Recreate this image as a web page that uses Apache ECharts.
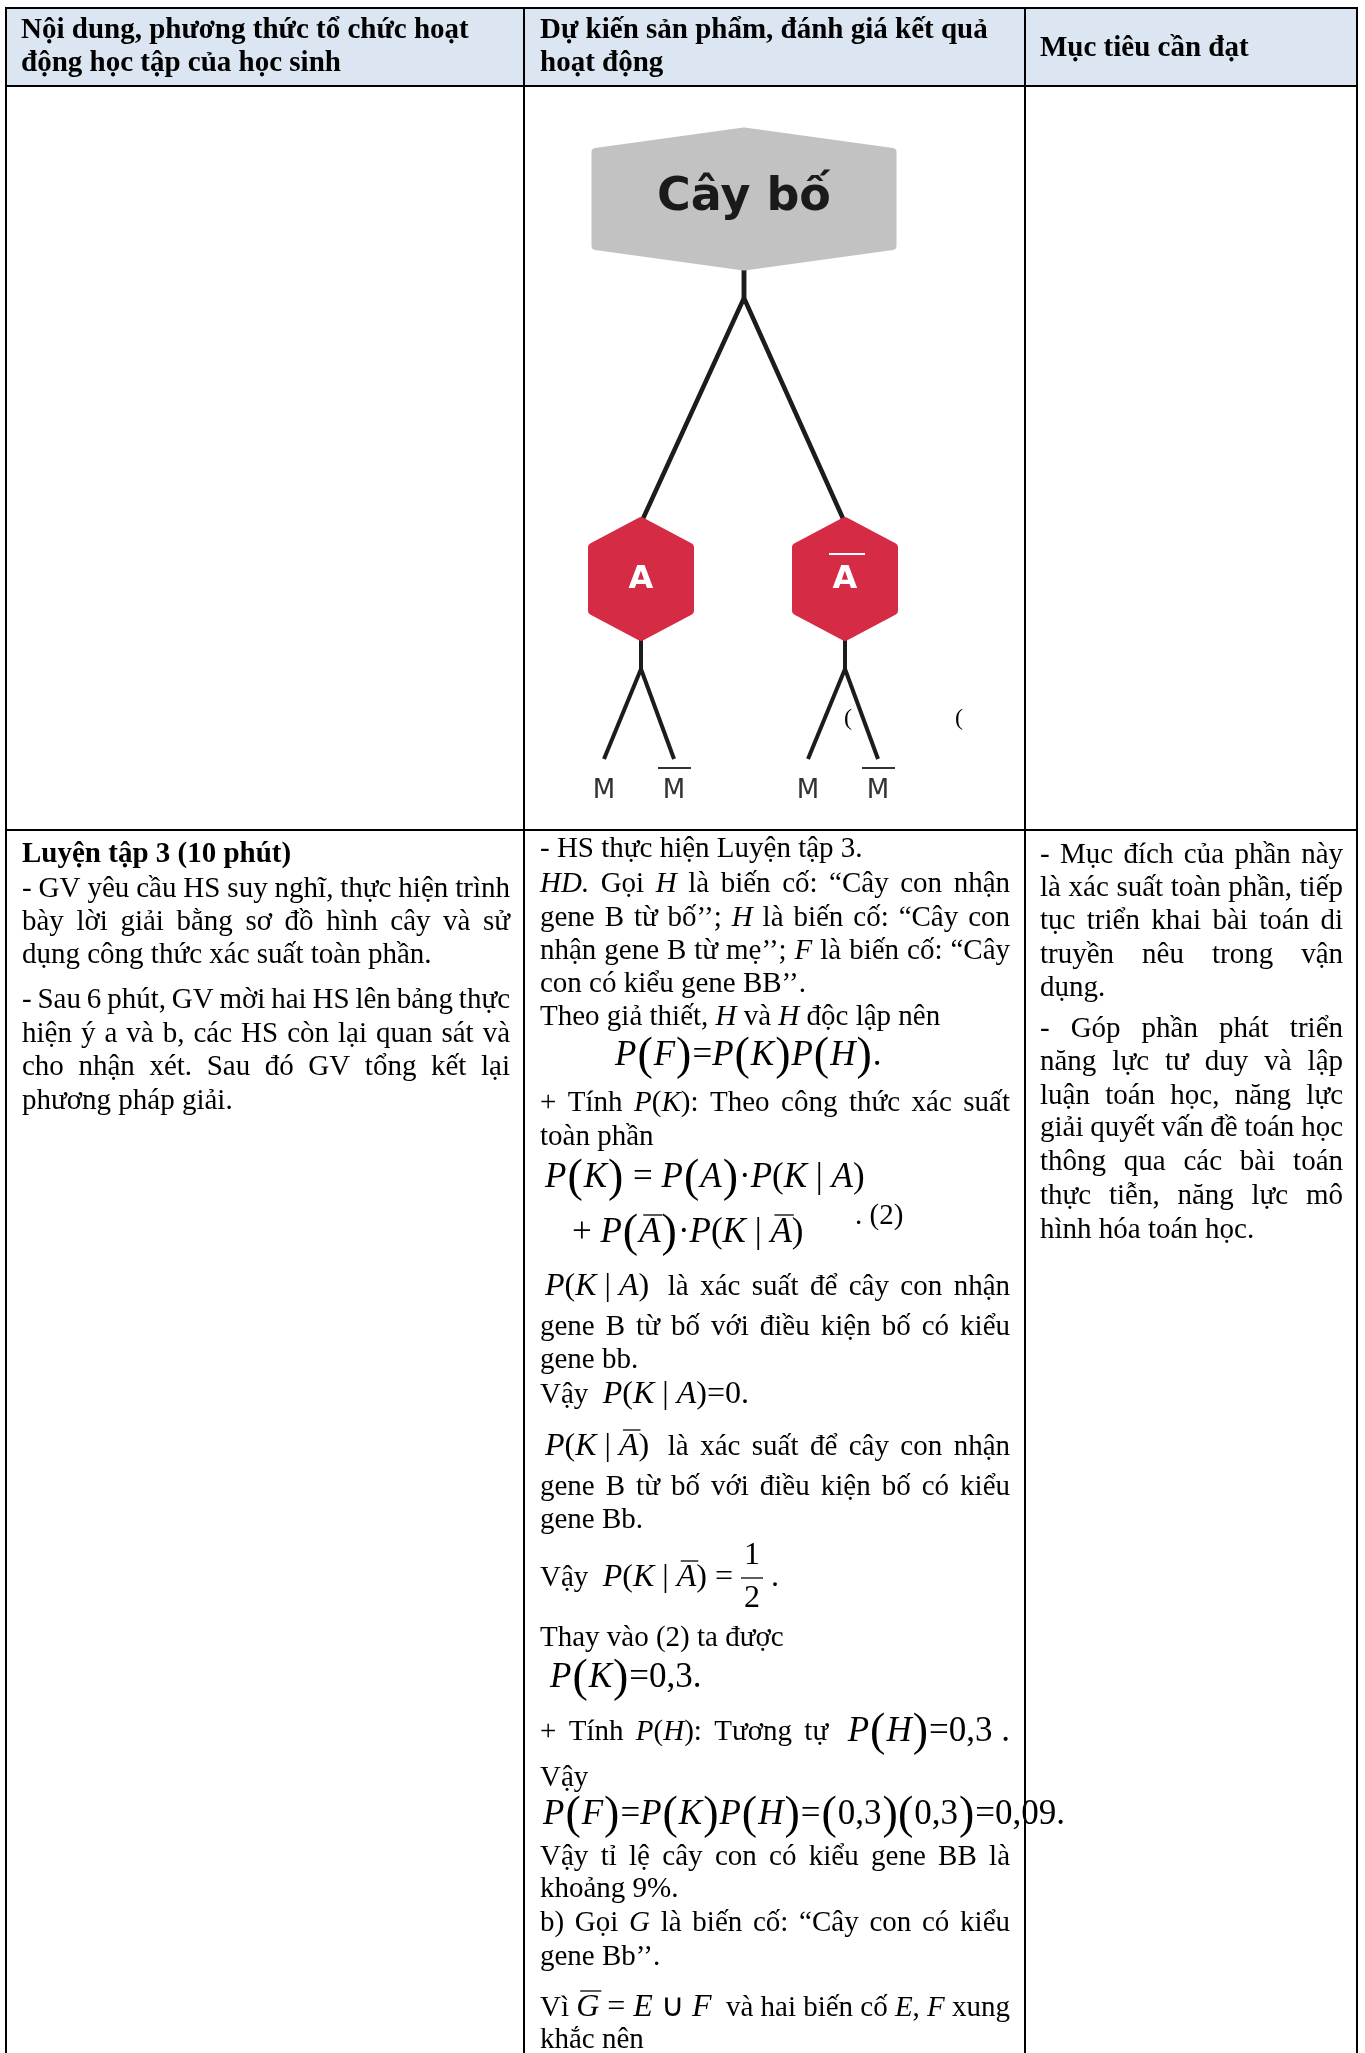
<!DOCTYPE html>
<html>
<head>
<meta charset="utf-8">
<script src="https://cdn.jsdelivr.net/npm/echarts@6/dist/echarts.min.js"></script>
<style>
html, body { margin: 0; padding: 0; background: #fff; }
#main { width: 1365px; height: 2053px; }
</style>
</head>
<body>
<div id="main"></div>
<script>
// markup: _x_ italic, *x* bold, $x$ inline math, #x# display math, «» big parens,
// ¯ overline next char, ~ fixed space, {a/b} fraction
var headerCol1 = ['Nội dung, phương thức tổ chức hoạt', 'động học tập của học sinh'];
var headerCol2 = ['Dự kiến sản phẩm, đánh giá kết quả', 'hoạt động'];
var headerCol3 = ['Mục tiêu cần đạt'];

var treeRoot = 'Cây bố';
var treeLevel1 = ['A', '¯A'];
var treeLevel2 = ['M', '¯M'];

var col1Lines = [
  '*Luyện tập 3 (10 phút)*',
  '- GV yêu cầu HS suy nghĩ, thực hiện trình',
  'bày lời giải bằng sơ đồ hình cây và sử',
  'dụng công thức xác suất toàn phần.',
  '- Sau 6 phút, GV mời hai HS lên bảng thực',
  'hiện ý a và b, các HS còn lại quan sát và',
  'cho nhận xét. Sau đó GV tổng kết lại',
  'phương pháp giải.'
];
var col1Justify = [0, 1, 1, 0, 1, 1, 1, 0];

var col2Lines = [
  '- HS thực hiện Luyện tập 3.',
  '_HD._ Gọi _H_ là biến cố: “Cây con nhận',
  'gene B từ bố’’; _H_ là biến cố: “Cây con',
  'nhận gene B từ mẹ’’; _F_ là biến cố: “Cây',
  'con có kiểu gene BB’’.',
  'Theo giả thiết, _H_ và _H_ độc lập nên',
  '#_P_«_F_»=_P_«_K_»_P_«_H_».#',
  '+ Tính _P_(_K_): Theo công thức xác suất',
  'toàn phần',
  '#_P_«_K_»~=~_P_«_A_»·_P_(_K_~|~_A_)#',
  '#+~_P_«¯_A_»·_P_(_K_~|~¯_A_)#',
  '.~(2)',
  '$_P_(_K_~|~_A_)$~ là xác suất để cây con nhận',
  'gene B từ bố với điều kiện bố có kiểu',
  'gene bb.',
  'Vậy~~$_P_(_K_~|~_A_)=0.$',
  '$_P_(_K_~|~¯_A_)$~ là xác suất để cây con nhận',
  'gene B từ bố với điều kiện bố có kiểu',
  'gene Bb.',
  'Vậy~~$_P_(_K_~|~¯_A_)~=~{1/2}~.$',
  'Thay vào (2) ta được',
  '#_P_«_K_»=0,3.#',
  '+ Tính _P_(_H_): Tương tự~ #_P_«_H_»=0,3~.#',
  'Vậy',
  '#_P_«_F_»=_P_«_K_»_P_«_H_»=«0,3»«0,3»=0,09.#',
  'Vậy tỉ lệ cây con có kiểu gene BB là',
  'khoảng 9%.',
  'b) Gọi _G_ là biến cố: “Cây con có kiểu',
  'gene Bb’’.',
  'Vì $¯_G_~=~_E_~∪~_F_$ ~và hai biến cố _E_, _F_ xung',
  'khắc nên'
];
var col2Justify = [0, 1, 1, 1, 0, 0, 0, 1, 0, 0, 0, 0, 1, 1, 0, 0, 1, 1, 0, 0, 0, 0, 1, 0, 0, 1, 0, 1, 0, 1, 0];

var col3Lines = [
  '- Mục đích của phần này',
  'là xác suất toàn phần, tiếp',
  'tục triển khai bài toán di',
  'truyền nêu trong vận',
  'dụng.',
  '- Góp phần phát triển',
  'năng lực tư duy và lập',
  'luận toán học, năng lực',
  'giải quyết vấn đề toán học',
  'thông qua các bài toán',
  'thực tiễn, năng lực mô',
  'hình hóa toán học.'
];
var col3Justify = [1, 1, 1, 1, 0, 1, 1, 1, 1, 1, 1, 0];

// layout
var colX = [6, 524, 1025, 1357];
var rowY = [8, 86, 830];
var col1Y = [855, 889, 922, 955, 1000, 1034, 1067, 1101];
var col2Y = [849, 884, 918, 951, 984, 1017, 1056, 1103, 1137, 1178, 1233, 1216, 1287, 1327, 1360, 1395,
  1447, 1487, 1520, 1578, 1638, 1678, 1732, 1778, 1815, 1857, 1889, 1923, 1957, 2008, 2040];
var col2X = [540, 540, 540, 540, 540, 540, 615, 540, 540, 545, 572, 855, 545, 540, 540, 540,
  545, 540, 540, 540, 540, 550, 540, 540, 543, 540, 540, 540, 540, 540, 540];
var col3Y = [855, 888, 921, 955, 988, 1029, 1062, 1096, 1128, 1162, 1196, 1230];

var FONT = '"Liberation Serif", "Times New Roman", serif';
var ctx = document.createElement('canvas').getContext('2d');

function fontOf(r) {
  var size = r.big ? 46 : (r.d ? 35 : (r.m ? 32 : 29));
  return (r.it ? 'italic ' : '') + (r.bd ? 'bold ' : '') + size + 'px ' + FONT;
}
function measure(text, font) { ctx.font = font; return ctx.measureText(text).width; }

function txt(s, x, y, font, align, fill) {
  return { type: 'text', x: x, y: y, silent: true,
    style: { text: s, font: font, fill: fill || '#000', textAlign: align, textVerticalAlign: 'middle' } };
}
function hline(x0, x1, y, w, color) {
  return { type: 'line', silent: true, shape: { x1: x0, y1: y, x2: x1, y2: y },
    style: { stroke: color, lineWidth: w } };
}

function parse(str) {
  var out = [], it = false, bd = false, m = false, d = false, bar = false;
  for (var i = 0; i < str.length; i++) {
    var c = str.charAt(i);
    if (c === '_') { it = !it; continue; }
    if (c === '*') { bd = !bd; continue; }
    if (c === '$') { m = !m; continue; }
    if (c === '#') { d = !d; continue; }
    if (c === '¯') { bar = true; continue; }
    if (c === '{') {
      var j = str.indexOf('}', i);
      out.push({ frac: str.slice(i + 1, j).split('/') });
      i = j;
      continue;
    }
    var big = false;
    if (c === '«') { c = '('; big = true; }
    else if (c === '»') { c = ')'; big = true; }
    else if (c === '~') { c = '\u00a0'; }
    out.push({ ch: c, it: it, bd: bd, m: m, d: d, big: big, bar: bar });
    bar = false;
  }
  return out;
}

function toWords(chars) {
  var ws = [], cur = [];
  chars.forEach(function (c) {
    if (c.ch === ' ') { if (cur.length) ws.push(cur); cur = []; }
    else cur.push(c);
  });
  if (cur.length) ws.push(cur);
  return ws.map(function (w) {
    var runs = [];
    w.forEach(function (c) {
      var last = runs[runs.length - 1];
      if (c.frac) { runs.push({ frac: c.frac }); return; }
      if (last && !last.frac && !last.bar && !c.bar && last.it === c.it && last.bd === c.bd &&
          last.m === c.m && last.d === c.d && last.big === c.big) {
        last.text += c.ch;
      } else {
        runs.push({ text: c.ch, it: c.it, bd: c.bd, m: c.m, d: c.d, big: c.big, bar: c.bar });
      }
    });
    runs.forEach(function (r) {
      r.w = r.frac ? measure(r.frac[0], fontOf({ m: true })) + 6 : measure(r.text, fontOf(r));
      if (r.big) r.w += 2;
    });
    return runs;
  });
}

function setLine(els, str, x0, x1, y, justify) {
  var ws = toWords(parse(str));
  var total = 0;
  ws.forEach(function (w) { w.forEach(function (r) { total += r.w; }); });
  var gap = measure(' ', fontOf({}));
  if (justify && ws.length > 1) gap = (x1 - x0 - total) / (ws.length - 1);
  var x = x0;
  ws.forEach(function (w) {
    w.forEach(function (r) {
      if (r.frac) {
        els.push(txt(r.frac[0], x + r.w / 2, y - 22, fontOf({ m: true }), 'center'));
        els.push(txt(r.frac[1], x + r.w / 2, y + 21, fontOf({ m: true }), 'center'));
        els.push(hline(x, x + r.w, y, 1.3, '#000'));
      } else {
        els.push(txt(r.text, r.big ? x + 1 : x, r.big ? y + 1 : y, fontOf(r), 'left'));
        if (r.bar) {
          var oy = r.d ? y - 18 : (r.m ? y - 17 : y - 15);
          els.push(hline(x + (r.it ? 4 : 1), x + r.w + (r.it ? 2 : -1), oy, 1.3, '#000'));
        }
      }
      x += r.w;
    });
    x += gap;
  });
}

function hexagon(cx, cy, w, h, s, color) {
  var pts = [[cx, cy - h / 2], [cx + w / 2, cy - s], [cx + w / 2, cy + s],
    [cx, cy + h / 2], [cx - w / 2, cy + s], [cx - w / 2, cy - s]];
  return { type: 'polygon', silent: true, shape: { points: pts },
    style: { fill: color, stroke: color, lineWidth: 8, lineJoin: 'round' } };
}
function edge(pts, w) {
  return { type: 'polyline', silent: true, shape: { points: pts },
    style: { stroke: '#1c1c1c', lineWidth: w, fill: null, lineJoin: 'round' } };
}

var els = [];

// header background
els.push({ type: 'rect', silent: true,
  shape: { x: colX[0], y: rowY[0], width: colX[3] - colX[0], height: rowY[1] - rowY[0] },
  style: { fill: '#dce6f2' } });

var headFont = 'bold 29px ' + FONT;
[headerCol1, headerCol2, headerCol3].forEach(function (lines, k) {
  var x = [21, 540, 1040][k];
  var ys = lines.length === 2 ? [31, 64] : [49];
  lines.forEach(function (s, i) { els.push(txt(s, x, ys[i], headFont, 'left')); });
});

// tree diagram
var rootX = 744, rootY = 199;
var l1Dx = [-103, 101], l1Y = 579;
var l2Dx = [-37, 33], leafY = 759;
treeLevel1.forEach(function (name, i) {
  var cx = rootX + l1Dx[i];
  els.push(edge([[rootX, 266], [rootX, 298], [cx, l1Y - 56]], 4.5));
  els.push(edge([[cx, l1Y + 55], [cx, 670]], 4));
  treeLevel2.forEach(function (leaf, j) {
    els.push(edge([[cx, 669], [cx + l2Dx[j], leafY]], 4));
  });
});
els.push(hexagon(rootX, rootY, 297, 135, 47, '#c2c2c2'));
els.push(txt(treeRoot, rootX, 198, 'bold 46px "DejaVu Sans", sans-serif', 'center', '#1a1a1a'));
treeLevel1.forEach(function (name, i) {
  var cx = rootX + l1Dx[i];
  els.push(hexagon(cx, l1Y, 98, 116, 32, '#d52b45'));
  var bar = name.charAt(0) === '¯';
  els.push(txt(name.replace('¯', ''), cx, 580, 'bold 32px "DejaVu Sans", sans-serif', 'center', '#fff'));
  if (bar) els.push(hline(cx - 16, cx + 20, 554, 2, '#fff'));
  treeLevel2.forEach(function (leaf, j) {
    var lx = cx + l2Dx[j];
    var lbar = leaf.charAt(0) === '¯';
    els.push(txt(leaf.replace('¯', ''), lx, 791, '26px "DejaVu Sans", sans-serif', 'center', '#333'));
    if (lbar) els.push(hline(lx - 16, lx + 17, 768, 2, '#333'));
  });
});
els.push(txt('(', 848, 719, '24px ' + FONT, 'center'));
els.push(txt('(', 959, 719, '24px ' + FONT, 'center'));

// body text
col1Lines.forEach(function (s, i) { setLine(els, s, 22, 510, col1Y[i], col1Justify[i]); });
col2Lines.forEach(function (s, i) { setLine(els, s, col2X[i], 1010, col2Y[i], col2Justify[i]); });
col3Lines.forEach(function (s, i) { setLine(els, s, 1040, 1343, col3Y[i], col3Justify[i]); });

// borders
rowY.forEach(function (y) { els.push(hline(colX[0] - 1, colX[3] + 1, y, 2, '#000')); });
colX.forEach(function (x) {
  els.push({ type: 'line', silent: true, shape: { x1: x, y1: rowY[0] - 1, x2: x, y2: 2053 },
    style: { stroke: '#000', lineWidth: 2 } });
});

var chart = echarts.init(document.getElementById('main'));
chart.setOption({
  animation: false,
  graphic: { elements: els }
});
</script>
</body>
</html>
